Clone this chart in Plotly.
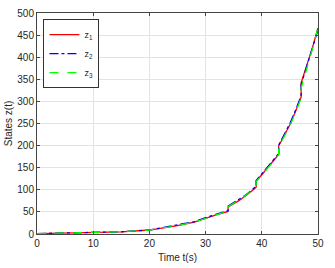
import plotly.graph_objects as go

t = [0, 5, 10, 15, 20, 25, 28, 30, 32, 34, 34, 36, 37, 38, 39, 39, 40, 41, 42, 43, 43, 44, 45, 46, 47, 47, 48, 49, 50]
z1 = [1, 2, 3, 5, 9, 19, 27, 36, 44, 51, 61, 76, 85, 95, 106, 120, 134, 149, 165, 180, 199, 222, 247, 277, 310, 342, 380, 421, 466]
z2 = [1, 2, 3, 5, 9, 20, 28, 37, 45, 53, 63, 78, 87, 97, 108, 121, 136, 151, 167, 182, 201, 224, 250, 280, 313, 338, 378, 418, 462]
z3 = [1, 2, 3, 5, 9, 19, 27, 36, 44, 52, 62, 77, 86, 96, 107, 119, 133, 148, 164, 179, 197, 220, 245, 275, 308, 330, 372, 418, 468]

names = ["z<sub>1</sub>", "z<sub>2</sub>", "z<sub>3</sub>"]
colors = ["#ff0000", "#0000ff", "#00ff00"]
dashes = ["solid", "dashdot", "dash"]

fig = go.Figure()
for z, n, c, d in zip([z1, z2, z3], names, colors, dashes):
    fig.add_trace(go.Scatter(x=t, y=z, mode="lines", name=n,
                             line=dict(color=c, dash=d, width=1.3)))

font = dict(family="Arial, Liberation Sans, sans-serif", size=10, color="#262626")
axis_common = dict(showline=True, linecolor="#444", linewidth=1, mirror="allticks",
                   ticks="inside", ticklen=3, tickcolor="#444",
                   showgrid=True, gridcolor="#e3e3e3", zeroline=False,
                   tickfont=font, automargin=False)
fig.update_layout(
    width=335, height=268,
    margin=dict(l=37, r=17, t=13, b=34),
    plot_bgcolor="white", paper_bgcolor="white",
    font=font,
    xaxis=dict(range=[0, 50], dtick=10, title=dict(text="Time t(s)", font=font, standoff=5), **axis_common),
    yaxis=dict(range=[0, 500], dtick=50, title=dict(text="States z(t)", font=font, standoff=2), **axis_common),
    legend=dict(x=0.023, y=0.972, xanchor="left", yanchor="top",
                bgcolor="white", bordercolor="#333", borderwidth=1,
                font=dict(family="Arial, Liberation Sans, sans-serif", size=9, color="#262626"),
                tracegroupgap=0, itemwidth=30),
)
fig.write_html("out.html", config={"displayModeBar": False},
               post_script="document.body.style.margin='0';")
